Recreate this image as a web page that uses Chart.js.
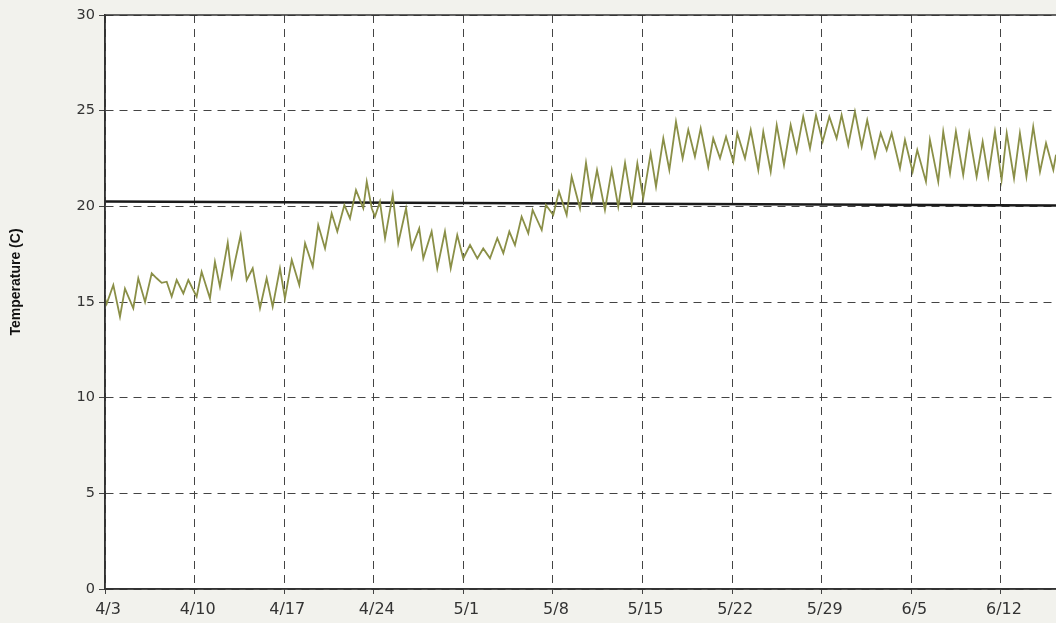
<!DOCTYPE html>
<html>
<head>
<meta charset="utf-8">
<script src="https://cdn.jsdelivr.net/npm/chart.js@4"></script>
<style>
  html, body { margin: 0; padding: 0; background: #f2f2ed; }
  #tempChart { display: block; }
</style>
</head>
<body>
<canvas id="tempChart" width="1056" height="623"></canvas>
<script>
// Readings: day offset from 4/3 and temperature (C)
const readingDays = [
  0, 0.13, 0.65, 1.17, 1.56, 2.21, 2.6, 3.13, 3.65, 4.04, 4.43, 4.82, 5.21, 5.6, 6.12, 6.51,
  7.16, 7.55, 8.2, 8.59, 8.98, 9.59, 9.9, 10.6, 11.07, 11.54, 12.11, 12.63, 13.1, 13.67, 14.06,
  14.59, 15.18, 15.63, 16.23, 16.66, 17.19, 17.71, 18.15, 18.7, 19.14, 19.61, 20.18, 20.45,
  20.84, 21.09, 21.48, 21.88, 22.48, 22.91, 23.52, 23.96, 24.55, 24.87, 25.52, 25.96, 26.56,
  27.01, 27.52, 27.99, 28.52, 29.09, 29.55, 30.08, 30.65, 31.12, 31.59, 32.03, 32.55, 33.07,
  33.41, 34.12, 34.45, 35.02, 35.47, 36.07, 36.46, 37.11, 37.58, 38.02, 38.44, 39.06, 39.59,
  40.1, 40.63, 41.15, 41.59, 42.05, 42.63, 43.05, 43.62, 44.09, 44.61, 45.13, 45.57, 46.09,
  46.54, 47.13, 47.52, 48.05, 48.52, 49.09, 49.4, 50.0, 50.45, 51.04, 51.43, 52.01, 52.48,
  53.05, 53.57, 54.04, 54.55, 55.08, 55.55, 56.07, 56.59, 57.16, 57.55, 58.07, 58.59, 59.12,
  59.55, 60.16, 60.6, 61.07, 61.46, 62.11, 62.5, 63.1, 63.46, 64.14, 64.45, 65.1, 65.49,
  66.02, 66.48, 67.05, 67.52, 68.1, 68.57, 69.01, 69.53, 70.05, 70.45, 71.02, 71.48, 71.99,
  72.52, 73.05, 73.52, 74.09, 74.3
];
const temperatures = [
  15.2, 14.9, 15.89, 14.23, 15.7, 14.67, 16.24, 15.0, 16.5, 16.24, 16.0, 16.06, 15.28, 16.15, 15.45, 16.15,
  15.28, 16.58, 15.19, 17.1, 15.8, 18.1, 16.32, 18.5, 16.15, 16.76, 14.67, 16.24, 14.76, 16.76, 15.19,
  17.2, 15.89, 18.07, 16.85, 19.02, 17.8, 19.63, 18.68, 20.07, 19.37, 20.85, 19.9, 21.29,
  19.9, 19.46, 20.24, 18.33, 20.6, 18.07, 19.9, 17.8, 18.85, 17.28, 18.68, 16.76, 18.68,
  16.76, 18.5, 17.28, 17.98, 17.28, 17.8, 17.28, 18.33, 17.55, 18.68, 17.98, 19.46, 18.59,
  19.81, 18.76, 20.07, 19.55, 20.77, 19.55, 21.55, 19.9, 22.27, 20.33, 21.9, 19.81, 21.9,
  19.98, 22.27, 20.16, 22.25, 20.42, 22.77, 21.03, 23.55, 21.9, 24.42, 22.51, 24.0, 22.6,
  24.08, 22.07, 23.55, 22.51, 23.64, 22.33, 23.82, 22.51, 23.99, 21.9, 23.9, 21.81, 24.25,
  22.16, 24.25, 22.86, 24.69, 23.03, 24.77, 23.38, 24.69, 23.55, 24.77, 23.2, 24.95, 23.12,
  24.51, 22.6, 23.82, 22.94, 23.82, 21.99, 23.47, 21.81, 22.94, 21.29, 23.47, 21.29, 23.9,
  21.73, 23.9, 21.64, 23.82, 21.55, 23.38, 21.55, 23.9, 21.38, 23.82, 21.47, 23.82, 21.55,
  24.16, 21.81, 23.3, 21.9, 22.7
];

// Black reference line (slightly falling)
const refLineDays = [0, 74.3];
const refLineTemps = [20.25, 20.05];

// Axis ticks
const weekTicks = [0, 7, 14, 21, 28, 35, 42, 49, 56, 63, 70];
const weekLabels = ['4/3', '4/10', '4/17', '4/24', '5/1', '5/8', '5/15', '5/22', '5/29', '6/5', '6/12'];
const yTitle = 'Temperature (C)';

const tempPoints = readingDays.map((d, i) => ({ x: d, y: temperatures[i] }));
const refPoints = refLineDays.map((d, i) => ({ x: d, y: refLineTemps[i] }));

// Background, solid frame and the y title
const framePlugin = {
  id: 'frame',
  beforeDraw(chart) {
    const { ctx, chartArea } = chart;
    ctx.save();
    ctx.fillStyle = '#f2f2ed';
    ctx.fillRect(0, 0, chart.width, chart.height);
    ctx.fillStyle = '#ffffff';
    ctx.fillRect(chartArea.left, chartArea.top, chartArea.right - chartArea.left, chartArea.bottom - chartArea.top);
    ctx.restore();
  },
  afterDraw(chart) {
    const { ctx, chartArea } = chart;
    ctx.save();
    ctx.strokeStyle = '#333';
    ctx.lineWidth = 1.5;
    ctx.beginPath();
    ctx.moveTo(chartArea.right, chartArea.top);
    ctx.lineTo(chartArea.left, chartArea.top);
    ctx.lineTo(chartArea.left, chartArea.bottom);
    ctx.lineTo(chartArea.right, chartArea.bottom);
    ctx.stroke();

    // y axis title, sits a bit above the middle like the original
    ctx.translate(16, 282);
    ctx.rotate(-Math.PI / 2);
    ctx.fillStyle = '#111';
    ctx.font = 'bold 14px "Liberation Sans"';
    ctx.textAlign = 'center';
    ctx.textBaseline = 'middle';
    ctx.fillText(yTitle, 0, 0);
    ctx.restore();
  }
};

const ctx = document.getElementById('tempChart').getContext('2d');
new Chart(ctx, {
  type: 'line',
  data: {
    datasets: [
      {
        data: tempPoints,
        borderColor: '#8a8f47',
        borderWidth: 1.8,
        pointRadius: 0,
        tension: 0
      },
      {
        data: refPoints,
        borderColor: '#1a1a1a',
        borderWidth: 2.5,
        pointRadius: 0
      }
    ]
  },
  options: {
    responsive: false,
    animation: false,
    devicePixelRatio: 1,
    layout: { padding: { top: 15, right: 0, left: 0, bottom: 0 } },
    plugins: {
      legend: { display: false },
      tooltip: { enabled: false }
    },
    scales: {
      x: {
        type: 'linear',
        min: 0,
        max: 74.3,
        afterBuildTicks: (scale) => { scale.ticks = weekTicks.map(v => ({ value: v })); },
        afterFit: (scale) => { scale.height = 34; },
        grid: { color: '#444', lineWidth: 1, tickLength: 5, tickColor: '#444' },
        border: { color: '#333', width: 1.5, dash: [8, 6] },
        ticks: {
          autoSkip: false,
          maxRotation: 0,
          padding: 6,
          labelOffset: 3,
          color: '#333',
          font: { family: 'DejaVu Sans', size: 16 },
          callback: (value) => weekLabels[weekTicks.indexOf(value)]
        }
      },
      y: {
        min: 0,
        max: 30,
        afterFit: (scale) => { scale.width = 105; },
        grid: { color: '#444', lineWidth: 1, tickLength: 6, tickColor: '#444' },
        border: { color: '#333', width: 1.5, dash: [8, 6] },
        ticks: {
          stepSize: 5,
          padding: 4,
          color: '#333',
          font: { family: 'DejaVu Sans', size: 14.5 }
        }
      }
    }
  },
  plugins: [framePlugin]
});
</script>
</body>
</html>
